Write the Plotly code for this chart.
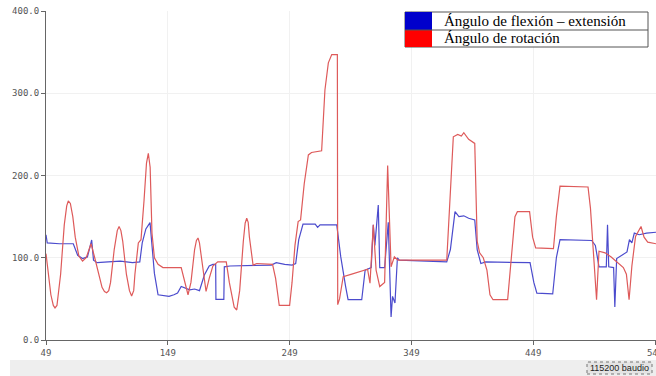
import plotly.graph_objects as go

# ---- data ----
flex_x = [49, 50, 60, 71.4, 75, 79, 83, 86.5, 88, 91, 100, 110, 120, 126, 128, 131, 134.4, 136.5, 138, 141,
          150, 154, 157, 160, 163, 167, 171, 175, 179, 183, 186, 188.3, 188.5, 195, 195.4, 200, 234, 238, 245,
          251, 254, 256.5, 260, 270, 272, 274, 287.7, 289, 291, 295, 297, 308.2, 311, 316, 317.7, 319, 321.8,
          323, 327, 330, 332.3, 333.5, 335.5, 337.5, 339, 378, 381, 384.8, 388, 392, 396, 401, 403, 406, 410,
          446.4, 449.5, 452, 465, 468, 471, 497, 500, 503, 509, 510, 511, 515, 516, 517.5, 522, 526, 528, 530,
          532, 536, 542, 549.8]
flex_y = [128, 118, 117, 117, 103, 99, 101, 121.6, 97, 94, 95, 96, 94, 95, 118, 135, 142.7, 105, 81, 55,
          53, 55, 57, 65, 63, 61, 62, 60, 79, 90, 92, 92, 49.5, 49.5, 89, 90, 91, 94, 92,
          91, 93, 122, 141, 141, 137, 140, 140, 125, 101, 65, 49, 49, 85, 88, 140, 115, 164,
          88, 88, 143, 28, 53, 45, 100, 97, 95, 110, 156, 150, 151, 148, 146, 110, 93, 95,
          94, 70, 57, 56, 100, 122, 121, 115, 89, 89, 140, 89, 88, 40, 99, 103, 107, 122, 118,
          130, 128, 130, 131]

rot_x = [49, 51, 53, 55, 56.4, 58, 61, 64, 66, 67.3, 69, 71, 73, 76, 79, 82, 86, 89, 92, 95, 97, 98.8, 100.5,
         102, 105, 107.5, 109, 110.5, 112, 115, 117.5, 119.3, 121, 122, 124.8, 127, 129.5, 131.5, 133, 134.5,
         136, 138, 141, 145, 160, 163, 165.6, 168, 171, 172.5, 173.8, 175, 177, 180.4, 183, 186, 190, 197,
         199.5, 203.5, 205.6, 208, 211, 212.5, 213.8, 215, 216, 219, 222, 235, 237.5, 240.5, 249, 251, 253.4,
         256, 258, 261, 264.4, 267, 275.3, 278, 280.8, 283.6, 288.2, 288.5, 290, 293, 300, 308, 313, 315,
         317.7, 320, 323, 327, 329.5, 332.3, 335, 338, 378, 383.4, 387, 390, 392, 396, 401, 403, 405, 408, 411,
         413.5, 416, 428, 431, 434, 436, 446, 448.5, 451, 465.6, 468, 471, 494, 496, 498, 501, 503, 508, 513,
         518, 523, 525.5, 527.7, 530, 533, 537.5, 540, 543, 549.8]
rot_y = [105, 80, 55, 42, 39, 42, 80, 140, 163, 169, 166, 150, 125, 102, 96, 100, 117, 100, 80, 64, 59, 57.5, 60,
         70, 110, 133, 138, 133, 120, 80, 60, 53.5, 60, 80, 118, 122, 170, 215, 227, 210,
         130, 100, 92, 88, 88, 70, 55, 70, 110, 121, 124, 118, 95, 59, 75, 90, 95, 95,
         70, 40, 36.5, 60, 120, 142, 148, 143, 125, 91, 93, 92, 75, 42, 42, 70, 115,
         144, 146, 190, 225, 228, 230, 304, 337, 347, 347, 43, 50, 77, 80, 84, 86, 69,
         140, 85, 65, 70, 212, 89, 101, 97, 97, 247, 250, 248, 252, 244, 239, 120, 106, 100, 85,
         55, 49, 49, 100, 150, 156, 156, 125, 112, 111, 150, 187, 186, 160, 113, 49, 108, 106, 101,
         95, 88, 80, 49, 90, 126, 138, 125, 119, 117]

x_ticks = [49, 149, 249, 349, 449, 549]
y_ticks = [0, 100, 200, 300, 400]
y_tick_text = ["0.0", "100.0", "200.0", "300.0", "400.0"]
legend_labels = ["Ángulo de flexión – extensión", "Ángulo de rotación"]

W, H = 656, 376
L, R, T, B = 46, 0, 11, 36
PW, PH = W - L - R, H - T - B


def px(xs):
    """screen x pixel -> paper coordinate"""
    return (xs - L) / PW


def py(ys):
    """screen y pixel -> paper coordinate"""
    return (H - B - ys) / PH


fig = go.Figure()
fig.add_trace(go.Scatter(x=flex_x, y=flex_y, mode="lines",
                         line=dict(color="rgb(75,75,205)", width=1.2), showlegend=False))
fig.add_trace(go.Scatter(x=rot_x, y=rot_y, mode="lines",
                         line=dict(color="rgb(222,90,90)", width=1.2), showlegend=False))

axis_font = dict(family="DejaVu Sans Mono", size=9, color="#555555")
fig.update_layout(
    width=W, height=H,
    margin=dict(l=L, r=R, t=T, b=B, pad=0, autoexpand=False),
    paper_bgcolor="white", plot_bgcolor="white",
    showlegend=False,
    xaxis=dict(range=[49, 549.8], tickvals=x_ticks, ticktext=[str(v) for v in x_ticks],
               automargin=False,
               showgrid=True, gridcolor="#f1f1f1", zeroline=False,
               showline=True, linecolor="#666666", linewidth=1, ticklabeloverflow="allow",
               ticks="outside", ticklen=4, tickcolor="#666666", tickfont=axis_font),
    yaxis=dict(range=[0, 400], tickvals=y_ticks, ticktext=y_tick_text,
               automargin=False,
               showgrid=True, gridcolor="#f1f1f1", zeroline=False,
               showline=True, linecolor="#666666", linewidth=1, ticklabeloverflow="allow",
               ticks="outside", ticklen=4, tickcolor="#666666", tickfont=axis_font),
)

shapes = []
# bottom grey status strip
shapes.append(dict(type="rect", xref="paper", yref="paper", x0=px(10), x1=px(656), y0=py(376), y1=py(360),
                   fillcolor="#eeeeee", line=dict(width=0), layer="below"))
# baud button
shapes.append(dict(type="rect", xref="paper", yref="paper", x0=px(587), x1=px(652), y0=py(374), y1=py(362),
                   fillcolor="#e4e4e4", line=dict(color="#777777", width=1, dash="dot")))
# legend box
shapes.append(dict(type="rect", xref="paper", yref="paper", x0=px(405), x1=px(648), y0=py(47), y1=py(12),
                   fillcolor="white", line=dict(color="#555555", width=1)))
shapes.append(dict(type="rect", xref="paper", yref="paper", x0=px(405), x1=px(432), y0=py(30), y1=py(12),
                   fillcolor="#0000cc", line=dict(width=0)))
shapes.append(dict(type="rect", xref="paper", yref="paper", x0=px(405), x1=px(432), y0=py(47), y1=py(30),
                   fillcolor="#ff0000", line=dict(width=0)))
shapes.append(dict(type="line", xref="paper", yref="paper", x0=px(405), x1=px(648), y0=py(30), y1=py(30),
                   line=dict(color="#555555", width=1)))
fig.update_layout(shapes=shapes)

ann_font = dict(family="Liberation Serif", size=15, color="black")
fig.add_annotation(xref="paper", yref="paper", x=px(442), y=py(21), text=legend_labels[0],
                   showarrow=False, xanchor="left", yanchor="middle", font=ann_font)
fig.add_annotation(xref="paper", yref="paper", x=px(442), y=py(38.5), text=legend_labels[1],
                   showarrow=False, xanchor="left", yanchor="middle", font=ann_font)
fig.add_annotation(xref="paper", yref="paper", x=px(619.5), y=py(368), text="115200 baudio",
                   showarrow=False, xanchor="center", yanchor="middle",
                   font=dict(family="Liberation Sans", size=9, color="#222222"))

fig.write_html("out.html", config={"displayModeBar": False},
               post_script="document.body.style.margin='0';document.body.style.overflow='hidden';")
